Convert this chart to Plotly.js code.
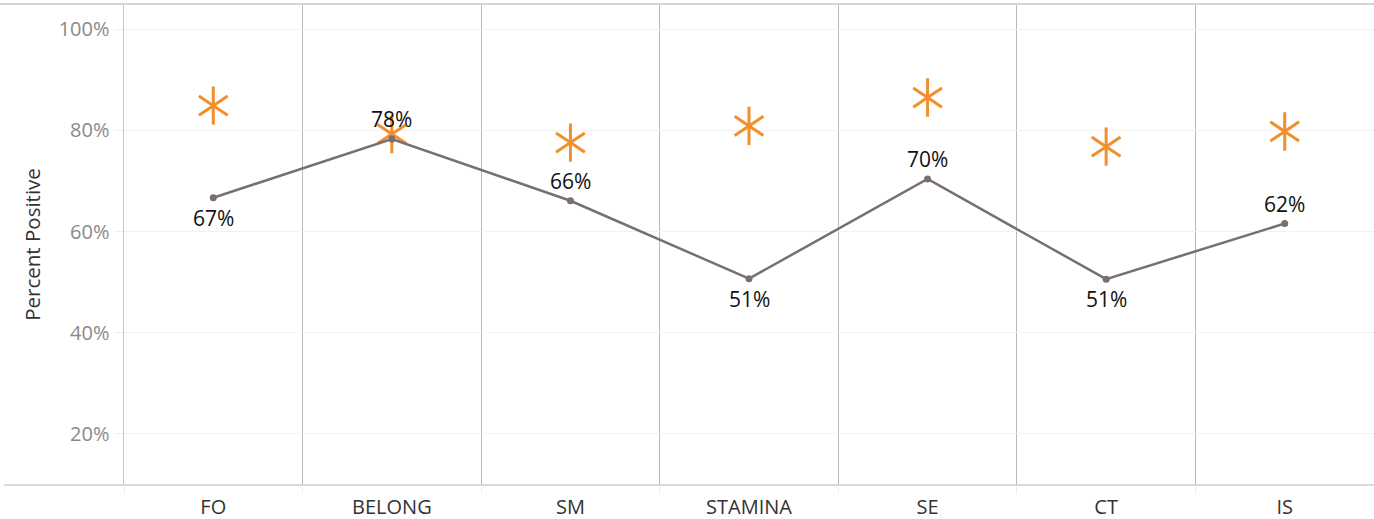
<!DOCTYPE html>
<html>
<head>
<meta charset="utf-8">
<script src="https://cdn.plot.ly/plotly-3.0.1.min.js"></script>
<style>
  html, body { margin: 0; padding: 0; background: #fff; }
  #chart { width: 1374px; height: 519px; }
</style>
</head>
<body>
<div id="chart"></div>
<script>
// Survey dimensions along the x axis
const categories = ["FO", "BELONG", "SM", "STAMINA", "SE", "CT", "IS"];

// Percent positive for each dimension (grey line)
const percentPositive = [66.7, 78.3, 66.1, 50.7, 70.4, 50.6, 61.6];

// Benchmark percent positive (orange asterisks)
const benchmark = [84.9, 79.3, 77.6, 80.9, 86.5, 76.8, 79.8];

// Which side of each point its value label sits on (1 = above, -1 = below)
const labelSide = [-1, 1, 1, -1, 1, -1, 1];

const yTicks = [20, 40, 60, 80, 100];

const orange = "#f28e2b";
const grey = "#79706e";
const fontFamily = "'Open Sans', 'Noto Sans', sans-serif";

// Six-armed asterisk built from an upward and a downward "Y" marker
const starUp = {
  type: "scatter", mode: "markers", x: categories, y: benchmark,
  marker: { symbol: "y-up-open", size: 24, color: orange, line: { color: orange, width: 3 } },
  hoverinfo: "skip", showlegend: false
};
const starDown = {
  type: "scatter", mode: "markers", x: categories, y: benchmark,
  marker: { symbol: "y-down-open", size: 24, color: orange, line: { color: orange, width: 3 } },
  hoverinfo: "skip", showlegend: false
};

const line = {
  type: "scatter", mode: "lines+markers", x: categories, y: percentPositive,
  line: { color: grey, width: 2.5 },
  marker: { color: grey, size: 7 },
  hoverinfo: "skip", showlegend: false
};

// Value labels, centred a fixed distance above or below each point
const valueLabels = categories.map((c, i) => ({
  x: c, y: percentPositive[i], xref: "x", yref: "y",
  text: Math.round(percentPositive[i]) + "%",
  showarrow: false, xanchor: "center", yanchor: "middle",
  yshift: labelSide[i] * 20,
  font: { family: fontFamily, size: 21, color: "#111" }
}));

const layout = {
  width: 1374, height: 519,
  margin: { l: 124, r: 0, t: 4, b: 34 },
  paper_bgcolor: "#fff", plot_bgcolor: "#fff",
  font: { family: fontFamily },
  xaxis: {
    type: "category",
    range: [-0.5, 6.5],
    tickson: "boundaries",
    showgrid: true, gridcolor: "#b9b9b9", gridwidth: 1,
    ticks: "outside", ticklen: 8, tickcolor: "#eeeeee",
    ticklabelstandoff: 8,
    tickfont: { family: fontFamily, size: 20, color: "#333" },
    showline: false, zeroline: false, fixedrange: true
  },
  yaxis: {
    range: [9.9, 105],
    tickvals: yTicks,
    ticktext: yTicks.map(v => v + "%"),
    showgrid: true, gridcolor: "#f1f1f1", gridwidth: 1,
    ticks: "outside", ticklen: 9, tickcolor: "#eeeeee",
    tickfont: { family: fontFamily, size: 20, color: "#8a8a8a" },
    title: { text: "Percent Positive", font: { family: fontFamily, size: 20.5, color: "#333" }, standoff: 12 },
    showline: true, linecolor: "#c8c8c8", linewidth: 1.5,
    zeroline: false, fixedrange: true
  },
  annotations: valueLabels,
  shapes: [
    // frame line along the top of the view
    { type: "line", xref: "paper", yref: "paper", x0: -0.1, x1: 1, y0: 1, y1: 1,
      line: { color: "#d6d6d6", width: 2 } },
    // baseline along the bottom of the view
    { type: "line", xref: "paper", yref: "paper", x0: -0.096, x1: 1, y0: 0, y1: 0,
      line: { color: "#cfcfcf", width: 1.5 } }
  ]
};

Plotly.newPlot("chart", [starUp, starDown, line], layout, { displayModeBar: false, staticPlot: true });
</script>
</body>
</html>
